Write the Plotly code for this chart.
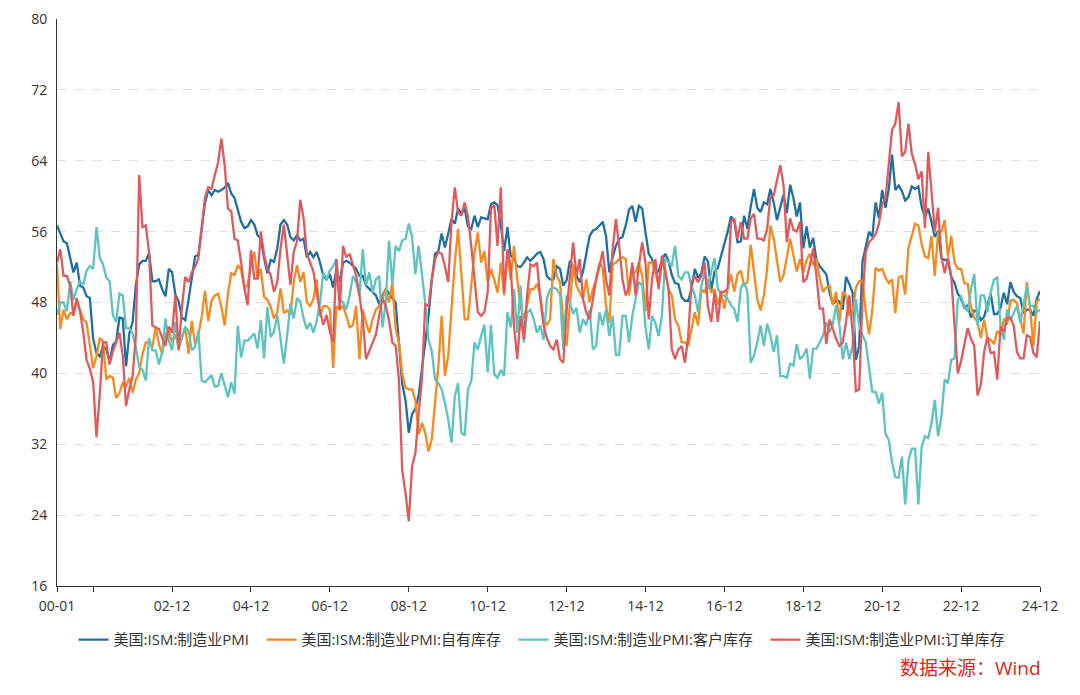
import plotly.graph_objects as go

# ---- data (monthly, 2000-01 .. 2024-12) ----
years = list(range(2000, 2025))
months = [f"{y % 100:02d}-{m:02d}" for y in years for m in range(1, 13)]

pmi = [
    56.7, 55.8, 54.9, 54.7, 53.2, 51.4, 52.5, 49.9, 49.7, 48.7, 48.5, 43.9,
    42.3, 41.9, 43.1, 42.7, 41.3, 43.2, 43.6, 46.3, 46.2, 40.8, 44.5, 45.8,
    50.0, 52.3, 52.7, 52.7, 53.6, 50.4, 50.4, 50.6, 49.5, 48.7, 51.8, 51.4,
    48.9, 48.1, 46.3, 46.0, 48.3, 50.8, 53.2, 53.4, 56.4, 59.2, 60.7, 60.1,
    60.7, 60.5, 60.7, 61.0, 61.5, 60.3, 59.8, 58.3, 57.1, 56.4, 56.6, 57.3,
    56.8, 55.6, 55.2, 53.0, 51.3, 52.8, 52.6, 54.1, 56.8, 57.3, 56.8, 55.4,
    55.0, 55.6, 55.0, 55.2, 53.1, 53.7, 53.1, 53.7, 52.5, 51.0, 50.6, 51.2,
    49.7, 51.8, 50.3, 52.5, 52.7, 52.5, 52.1, 51.8, 51.0, 51.0, 49.9, 49.5,
    49.1, 48.8, 47.8, 48.8, 49.5, 49.0, 48.5, 48.0, 43.5, 38.8, 37.0, 33.3,
    35.4, 36.0, 37.5, 40.5, 44.0, 46.5, 50.5, 53.5, 53.8, 55.8, 54.2, 55.7,
    57.4, 56.9, 58.6, 58.0, 58.6, 56.6, 56.3, 57.8, 56.5, 57.6, 57.5, 57.4,
    59.1, 59.3, 59.0, 56.7, 53.8, 56.5, 53.3, 52.9, 52.1, 52.0, 52.5, 53.1,
    52.7, 53.1, 53.5, 53.7, 52.9, 51.0, 50.6, 50.6, 52.1, 51.8, 49.9, 50.5,
    52.7, 52.0, 51.0, 50.3, 51.5, 53.5, 55.5, 56.1, 56.3, 56.7, 57.1, 55.5,
    51.4, 53.1, 54.4, 55.2, 55.4, 56.7, 58.5, 58.9, 57.1, 58.9, 58.6, 55.9,
    53.5, 52.9, 51.5, 51.5, 52.8, 53.5, 52.7, 51.1, 50.2, 50.1, 48.6, 48.2,
    48.2, 49.5, 51.8, 50.8, 51.3, 53.2, 52.6, 49.4, 51.5, 51.9, 53.2, 54.7,
    56.0, 57.7, 57.2, 54.8, 54.9, 57.8, 56.3, 58.8, 60.8, 58.7, 58.2, 59.3,
    59.1, 60.8, 59.3, 57.3, 58.7, 60.2, 58.1, 61.3, 59.8, 57.7, 59.3, 54.1,
    56.6, 54.2, 55.3, 52.8, 52.1, 51.7, 51.2, 49.1, 47.8, 48.3, 48.1, 47.2,
    50.9, 50.1, 49.1, 41.5, 43.1, 52.6, 54.2, 56.0, 55.4, 59.3, 57.5, 60.7,
    58.7, 60.8, 64.7, 60.7, 61.2, 60.6, 59.5, 59.9, 61.1, 60.8, 61.1, 58.8,
    57.6, 58.6, 57.1, 55.4, 56.1, 53.0, 52.8, 52.8, 50.9, 50.2, 49.0, 48.4,
    47.4, 47.7, 46.3, 47.1, 46.9, 46.0, 46.4, 47.6, 49.0, 46.7, 46.7, 47.4,
    49.1, 47.8, 50.3, 49.2, 48.7, 48.5, 46.8, 47.2, 47.2, 46.5, 48.4, 49.3,
]

inventories = [
    52.4, 45.0, 47.2, 46.1, 46.8, 46.8, 48.2, 47.2, 46.1, 45.7, 43.1, 40.6,
    41.9, 44.0, 43.6, 39.3, 39.7, 39.5, 37.2, 37.8, 38.9, 38.5, 39.5, 37.8,
    39.3, 40.0, 42.2, 43.5, 43.5, 42.9, 45.2, 43.3, 42.2, 44.4, 44.8, 43.5,
    44.4, 42.9, 44.0, 45.2, 42.2, 45.9, 43.3, 44.4, 46.3, 49.3, 45.9, 48.2,
    48.8, 49.0, 47.5, 45.4, 49.0, 51.3, 51.1, 52.2, 51.7, 49.6, 50.0, 52.2,
    53.7, 50.7, 51.8, 48.6, 48.3, 47.5, 46.2, 46.9, 49.6, 46.8, 47.1, 46.6,
    50.3, 52.2, 50.3, 51.4, 48.0, 47.6, 48.4, 50.6, 46.5, 47.6, 47.6, 47.2,
    40.6, 47.6, 47.2, 47.6, 46.5, 45.2, 45.4, 47.6, 41.6, 47.2, 45.7, 44.6,
    46.1, 47.2, 47.6, 48.4, 49.5, 48.0, 50.3, 45.0, 43.5, 40.0, 38.4, 38.2,
    38.2, 37.0, 33.1, 34.4, 33.3, 31.2, 32.6, 36.3, 40.8, 46.5, 39.7, 42.0,
    47.6, 52.5, 56.3, 50.6, 46.1, 46.1, 49.9, 53.7, 55.9, 52.5, 53.8, 50.3,
    51.8, 50.6, 49.1, 52.5, 48.8, 53.3, 50.6, 54.4, 50.6, 47.6, 46.1, 48.0,
    49.5, 49.5, 50.1, 48.8, 46.1, 45.5, 46.1, 52.9, 51.0, 50.3, 45.7, 43.1,
    48.0, 52.3, 49.9, 49.1, 48.4, 50.6, 48.0, 49.5, 50.6, 52.5, 51.8, 47.6,
    45.7, 52.3, 52.5, 52.9, 53.1, 52.9, 48.8, 51.4, 51.4, 52.5, 51.0, 47.0,
    52.5, 52.5, 51.4, 49.9, 52.5, 51.8, 49.5, 48.8, 46.1, 45.4, 43.5, 43.5,
    43.1, 45.0, 46.9, 45.4, 49.5, 49.1, 50.6, 49.1, 49.5, 47.7, 49.2, 47.3,
    49.6, 51.2, 49.2, 51.2, 51.6, 49.9, 50.3, 54.5, 51.4, 48.4, 47.1, 48.8,
    51.8, 56.7, 55.2, 52.9, 50.3, 51.1, 53.3, 55.2, 53.3, 51.5, 52.9, 51.4,
    52.8, 53.5, 52.2, 52.9, 50.7, 49.2, 49.7, 49.9, 47.7, 49.2, 45.8, 49.2,
    48.8, 46.5, 46.9, 49.7, 50.4, 50.5, 47.0, 44.4, 47.1, 51.9, 51.6, 51.8,
    50.8, 50.2, 50.6, 46.8, 50.8, 51.0, 48.9, 54.2, 55.5, 56.9, 56.7, 54.6,
    53.2, 53.0, 55.5, 51.0, 55.9, 56.0, 57.3, 53.1, 55.5, 52.5, 51.8, 51.8,
    50.2, 50.1, 47.5, 46.3, 45.8, 44.0, 46.1, 44.0, 43.8, 43.3, 44.8, 44.3,
    46.2, 45.5, 48.2, 48.3, 47.9, 46.0, 44.5, 50.3, 47.2, 43.1, 48.1, 48.4,
]

customers_inv = [
    46.6, 48.0, 48.0, 47.0, 50.4, 48.3, 49.5, 50.4, 50.0, 51.6, 52.1, 51.8,
    56.5, 53.1, 52.3, 50.8, 50.4, 46.6, 45.8, 49.0, 48.8, 45.1, 45.1, 44.5,
    42.9, 40.7, 40.4, 39.2, 44.0, 42.6, 42.6, 41.0, 42.4, 46.2, 43.7, 42.6,
    45.8, 42.8, 44.1, 45.2, 44.8, 42.6, 43.0, 44.8, 39.2, 39.0, 39.4, 39.8,
    38.5, 38.6, 40.0, 38.5, 37.3, 39.0, 37.7, 45.4, 41.8, 43.7, 43.7, 44.1,
    44.5, 42.8, 46.0, 41.7, 47.5, 44.1, 44.7, 46.6, 43.9, 41.1, 44.3, 47.9,
    46.2, 48.5, 48.1, 46.2, 45.0, 45.7, 44.6, 45.9, 48.0, 51.4, 50.6, 51.6,
    52.1, 52.9, 48.4, 48.0, 47.2, 48.8, 51.0, 50.3, 48.8, 54.0, 49.9, 51.4,
    49.1, 50.6, 51.0, 45.2, 48.0, 55.0, 50.0, 54.4, 53.8, 55.0, 55.2, 56.9,
    55.4, 51.2, 54.4, 51.0, 48.0, 43.8, 42.5, 39.3, 38.9, 38.2, 36.7, 34.8,
    32.2, 37.4, 38.9, 33.3, 33.0, 38.2, 39.1, 43.5, 42.7, 44.2, 45.5, 40.1,
    45.5, 39.9, 39.5, 40.4, 39.7, 46.9, 45.2, 49.5, 44.6, 49.9, 43.5, 46.9,
    47.2, 46.1, 44.6, 45.4, 43.8, 48.4, 49.5, 49.7, 49.5, 48.9, 42.7, 48.8,
    48.0, 46.7, 47.4, 44.6, 46.1, 45.4, 47.2, 42.7, 43.1, 46.9, 45.4, 47.2,
    44.2, 46.5, 42.1, 42.1, 46.5, 46.5, 43.5, 46.5, 48.4, 50.3, 49.9, 45.2,
    42.7, 46.5, 45.7, 44.2, 46.5, 53.0, 52.5, 52.2, 54.4, 51.0, 50.6, 51.4,
    51.4, 49.9, 48.8, 46.9, 49.9, 51.4, 49.5, 51.5, 53.0, 49.6, 48.8, 48.8,
    48.4, 47.7, 47.3, 45.8, 49.6, 50.3, 49.2, 41.2, 42.0, 43.5, 45.4, 43.1,
    45.6, 44.3, 42.4, 44.3, 39.7, 39.7, 39.5, 41.1, 40.9, 43.3, 41.6, 42.0,
    42.8, 39.4, 42.8, 42.8, 43.5, 44.3, 45.8, 44.6, 45.6, 47.7, 45.4, 41.6,
    43.5, 41.6, 43.1, 48.4, 45.4, 44.3, 43.5, 40.5, 37.9, 37.9, 36.6, 37.8,
    33.2, 32.5, 30.0, 28.3, 28.2, 30.6, 25.2, 30.2, 31.5, 31.5, 25.2, 31.7,
    32.9, 32.7, 34.4, 37.0, 32.9, 35.1, 39.3, 38.9, 41.5, 41.7, 48.3, 48.7,
    47.5, 47.0, 49.5, 51.2, 45.4, 48.8, 48.8, 46.9, 49.1, 50.6, 50.8, 45.4,
    43.8, 47.2, 46.0, 46.8, 47.6, 45.7, 47.6, 49.9, 47.6, 47.6, 46.9, 47.2,
]

backlog = [
    52.5, 54.0, 51.0, 51.0, 49.9, 46.5, 48.5, 47.0, 44.6, 41.5, 40.5, 39.0,
    32.8, 37.5, 43.5, 43.5, 41.0, 42.5, 43.5, 44.6, 42.0, 36.3, 38.2, 39.7,
    44.3, 62.4, 56.5, 56.7, 53.7, 45.4, 45.2, 45.0, 44.0, 43.1, 45.3, 44.6,
    48.8, 42.6, 47.5, 50.9, 50.3, 51.4, 52.0, 53.0, 56.4, 59.8, 61.0, 60.8,
    62.4, 63.8, 66.5, 63.5, 58.6, 58.3, 55.2, 55.0, 52.5, 49.6, 47.7, 53.9,
    50.7, 50.7, 56.0, 53.4, 51.8, 51.1, 49.2, 50.3, 54.1, 56.8, 53.4, 50.0,
    53.7, 54.9, 59.6, 57.5, 53.5, 52.5, 51.5, 49.0, 47.0, 45.5, 46.6, 44.7,
    43.5, 52.9, 47.2, 54.4, 53.1, 53.5, 52.1, 51.0, 48.8, 46.1, 41.6, 42.5,
    43.5, 44.4, 46.5, 48.5, 47.6, 46.0, 43.5, 43.1, 39.3, 29.1, 26.5, 23.3,
    29.5, 31.0, 35.5, 39.3, 47.8, 47.6, 50.6, 52.9, 53.7, 53.5, 52.1, 50.3,
    57.1, 61.0, 58.2, 57.8, 59.3, 57.7, 54.4, 50.6, 46.9, 46.5, 46.9, 49.1,
    58.6, 59.0, 54.4, 61.0, 49.1, 54.0, 52.1, 45.4, 41.6, 46.5, 43.8, 48.8,
    52.3, 52.1, 52.5, 48.4, 45.4, 44.0, 43.1, 42.7, 43.8, 41.6, 41.2, 47.0,
    50.6, 54.8, 51.0, 52.9, 48.4, 46.9, 46.1, 48.4, 50.6, 52.1, 53.8, 50.6,
    48.8, 54.0, 57.4, 54.4, 50.6, 48.8, 49.7, 52.5, 48.8, 52.2, 54.8, 52.5,
    46.1, 50.6, 52.9, 49.5, 53.3, 51.4, 49.5, 42.7, 41.6, 42.7, 43.1, 41.2,
    44.2, 50.3, 51.0, 50.3, 51.0, 52.5, 47.5, 45.8, 49.2, 45.8, 49.2, 49.2,
    49.6, 57.1, 57.5, 55.2, 57.1, 55.2, 55.2, 57.5, 58.0, 55.2, 55.2, 55.0,
    56.3, 59.9, 60.1, 61.8, 63.5, 61.2, 54.8, 57.5, 56.2, 56.0, 57.1, 50.3,
    50.7, 52.2, 54.1, 51.0, 47.3, 47.3, 43.3, 46.1, 45.0, 43.9, 43.1, 43.5,
    45.8, 48.8, 44.6, 38.0, 38.2, 48.4, 53.7, 54.8, 55.2, 55.7, 56.9, 59.1,
    59.7, 64.0, 67.5, 68.2, 70.6, 64.5, 65.0, 68.2, 64.8, 63.6, 61.9, 62.8,
    56.4, 65.0, 60.0, 56.0, 58.7, 53.2, 51.3, 53.0, 50.9, 45.3, 40.0, 41.4,
    43.4, 45.1, 43.9, 43.1, 37.5, 38.7, 42.4, 44.1, 42.3, 42.4, 39.3, 45.3,
    44.7, 46.3, 46.3, 45.4, 42.4, 41.7, 41.7, 44.3, 44.1, 42.3, 41.8, 45.9,
]

tick_months = ["00-01", "00-12", "02-12", "04-12", "06-12", "08-12", "10-12", "12-12",
               "14-12", "16-12", "18-12", "20-12", "22-12", "24-12"]
tick_labels = ["00-01", "", "02-12", "04-12", "06-12", "08-12", "10-12", "12-12",
               "14-12", "16-12", "18-12", "20-12", "22-12", "24-12"]
y_ticks = [16, 24, 32, 40, 48, 56, 64, 72, 80]

series = [
    ("美国:ISM:制造业PMI", pmi, "#1f6fa3"),
    ("美国:ISM:制造业PMI:自有库存", inventories, "#f58b1f"),
    ("美国:ISM:制造业PMI:客户库存", customers_inv, "#5cc3c0"),
    ("美国:ISM:制造业PMI:订单库存", backlog, "#e05a5d"),
]

FONT = "Open Sans, Noto Sans CJK SC, sans-serif"
GAP = "\u2002"  # small extra spacing after each legend entry

fig = go.Figure()
for name, vals, color in series:
    fig.add_trace(go.Scatter(
        x=months, y=vals, name=name + GAP, mode="lines",
        line=dict(color=color, width=2.3),
        hovertemplate=name + ": %{y}<extra></extra>",
    ))

fig.update_layout(
    width=1080, height=695,
    margin=dict(l=49, r=48, t=11, b=117, autoexpand=False),
    paper_bgcolor="white", plot_bgcolor="white",
    font=dict(family=FONT, size=14, color="#333333"),
    showlegend=True,
    legend=dict(orientation="h", x=0.497, xanchor="center", y=-0.095, yanchor="middle",
                font=dict(family=FONT, size=15, color="#333333"), itemwidth=30,
                bgcolor="rgba(0,0,0,0)"),
    annotations=[dict(
        text="数据来源：Wind", xref="paper", yref="paper",
        x=1.003, y=-0.145, xanchor="right", yanchor="middle", showarrow=False,
        font=dict(family=FONT, size=19, color="#d9261c"),
    )],
)

fig.update_xaxes(
    type="category", categoryorder="array", categoryarray=months,
    range=[0, len(months) - 1],
    tickmode="array", tickvals=tick_months, ticktext=tick_labels,
    showgrid=False, showline=True, linecolor="#333333", linewidth=1,
    ticks="outside", ticklen=5, tickcolor="#333333", ticklabelstandoff=2,
    tickfont=dict(family=FONT, size=14, color="#333333"), zeroline=False,
)
fig.update_yaxes(
    range=[16, 80], tickmode="array", tickvals=y_ticks,
    showgrid=True, gridcolor="#dedede", griddash="dash", gridwidth=1,
    showline=True, linecolor="#333333", linewidth=1,
    ticks="", ticklabelstandoff=6,
    tickfont=dict(family=FONT, size=14, color="#333333"), zeroline=False,
)

fig.write_html("out.html")
